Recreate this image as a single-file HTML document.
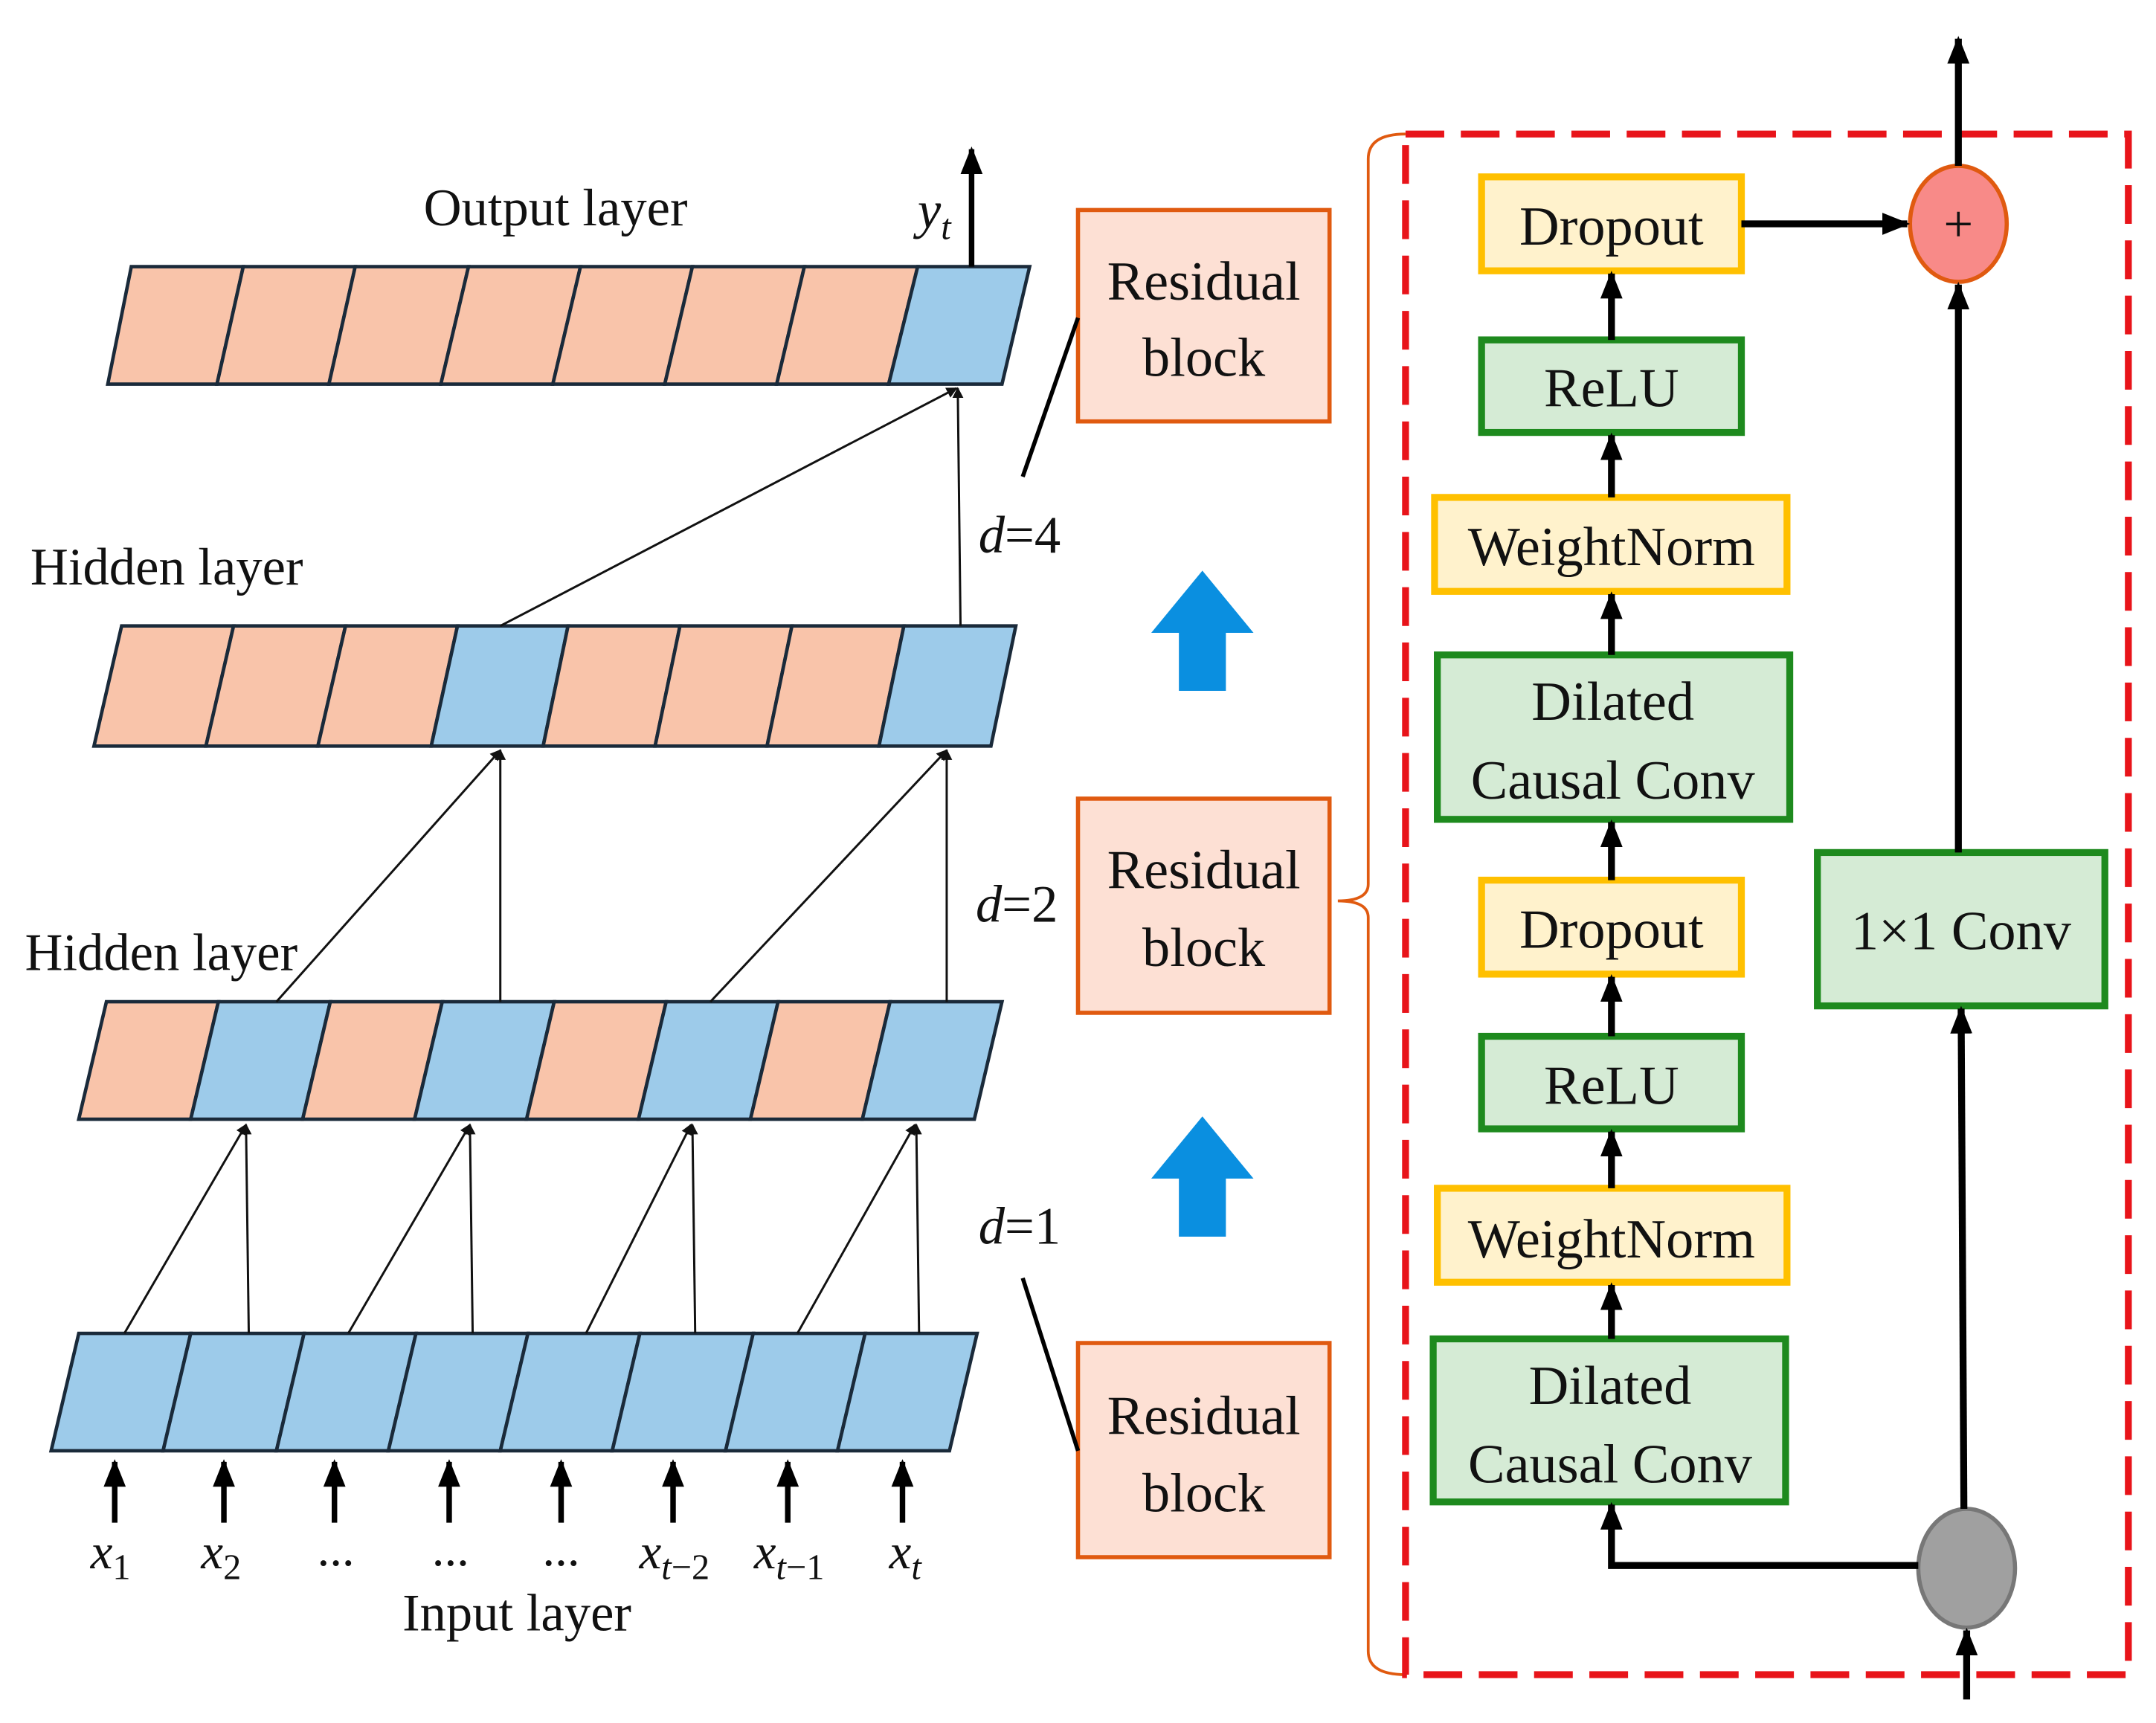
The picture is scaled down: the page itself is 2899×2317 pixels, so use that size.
<!DOCTYPE html>
<html><head><meta charset="utf-8"><style>
html,body{margin:0;padding:0;background:#fff;}
svg{display:block;}
text{font-family:"Liberation Serif",serif;fill:#111;}
</style></head><body>
<svg width="2899" height="2317" viewBox="0 0 1560 1247" preserveAspectRatio="none" xmlns="http://www.w3.org/2000/svg">
<defs>
<marker id="a" markerWidth="8" markerHeight="8" refX="7" refY="4" orient="auto" markerUnits="userSpaceOnUse"><path d="M0,0 L8,4 L0,8 z" fill="#111"/></marker>
<marker id="b" markerWidth="20" markerHeight="20" refX="18" refY="10" orient="auto" markerUnits="userSpaceOnUse"><path d="M0,2 L20,10 L0,18 z" fill="#000"/></marker>
</defs>
<rect width="1560" height="1247" fill="#fff"/>
<g stroke="#1a2a3a" stroke-width="2.5">
<!-- output -->
<polygon points="95,193 176,193 157,278 78,278" fill="#F9C4AA"/>
<polygon points="176,193 257,193 238,278 157,278" fill="#F9C4AA"/>
<polygon points="257,193 339,193 319,278 238,278" fill="#F9C4AA"/>
<polygon points="339,193 420,193 400,278 319,278" fill="#F9C4AA"/>
<polygon points="420,193 501,193 481,278 400,278" fill="#F9C4AA"/>
<polygon points="501,193 582,193 562,278 481,278" fill="#F9C4AA"/>
<polygon points="582,193 664,193 643,278 562,278" fill="#F9C4AA"/>
<polygon points="664,193 745,193 725,278 643,278" fill="#9DCBEA"/>
<!-- hidden 2 -->
<polygon points="88,453 169,453 149,540 68,540" fill="#F9C4AA"/>
<polygon points="169,453 250,453 230,540 149,540" fill="#F9C4AA"/>
<polygon points="250,453 331,453 312,540 230,540" fill="#F9C4AA"/>
<polygon points="331,453 411,453 393,540 312,540" fill="#9DCBEA"/>
<polygon points="411,453 492,453 474,540 393,540" fill="#F9C4AA"/>
<polygon points="492,453 573,453 555,540 474,540" fill="#F9C4AA"/>
<polygon points="573,453 654,453 636,540 555,540" fill="#F9C4AA"/>
<polygon points="654,453 735,453 717,540 636,540" fill="#9DCBEA"/>
<!-- hidden 1 -->
<polygon points="77,725 158,725 138,810 57,810" fill="#F9C4AA"/>
<polygon points="158,725 239,725 219,810 138,810" fill="#9DCBEA"/>
<polygon points="239,725 320,725 300,810 219,810" fill="#F9C4AA"/>
<polygon points="320,725 401,725 381,810 300,810" fill="#9DCBEA"/>
<polygon points="401,725 482,725 462,810 381,810" fill="#F9C4AA"/>
<polygon points="482,725 563,725 543,810 462,810" fill="#9DCBEA"/>
<polygon points="563,725 644,725 624,810 543,810" fill="#F9C4AA"/>
<polygon points="644,725 725,725 705,810 624,810" fill="#9DCBEA"/>
<!-- input -->
<polygon points="57,965 138,965 118,1050 37,1050" fill="#9DCBEA"/>
<polygon points="138,965 220,965 200,1050 118,1050" fill="#9DCBEA"/>
<polygon points="220,965 301,965 281,1050 200,1050" fill="#9DCBEA"/>
<polygon points="301,965 382,965 362,1050 281,1050" fill="#9DCBEA"/>
<polygon points="382,965 463,965 443,1050 362,1050" fill="#9DCBEA"/>
<polygon points="463,965 545,965 525,1050 443,1050" fill="#9DCBEA"/>
<polygon points="545,965 626,965 606,1050 525,1050" fill="#9DCBEA"/>
<polygon points="626,965 707,965 687,1050 606,1050" fill="#9DCBEA"/>
</g>
<g stroke="#111" stroke-width="1.6" fill="none" marker-end="url(#a)">
<line x1="90" y1="965" x2="178" y2="814"/><line x1="180" y1="965" x2="178" y2="814"/>
<line x1="252" y1="965" x2="340" y2="814"/><line x1="342" y1="965" x2="340" y2="814"/>
<line x1="424" y1="965" x2="500" y2="814"/><line x1="503" y1="965" x2="501" y2="814"/>
<line x1="577" y1="965" x2="662" y2="814"/><line x1="665" y1="965" x2="663" y2="814"/>
<line x1="200" y1="725" x2="362" y2="543"/><line x1="362" y1="725" x2="362" y2="543"/>
<line x1="514" y1="725" x2="685" y2="543"/><line x1="685" y1="725" x2="685" y2="543"/>
<line x1="362" y1="453" x2="692" y2="281"/><line x1="695" y1="453" x2="693" y2="281"/>
</g>
<g stroke="#000" stroke-width="4" marker-end="url(#b)">
<line x1="703" y1="193" x2="703" y2="108"/>
<line x1="83" y1="1102" x2="83" y2="1058"/><line x1="162" y1="1102" x2="162" y2="1058"/>
<line x1="242" y1="1102" x2="242" y2="1058"/><line x1="325" y1="1102" x2="325" y2="1058"/>
<line x1="406" y1="1102" x2="406" y2="1058"/><line x1="487" y1="1102" x2="487" y2="1058"/>
<line x1="570" y1="1102" x2="570" y2="1058"/><line x1="653" y1="1102" x2="653" y2="1058"/>
</g>
<g font-size="38">
<text x="402" y="163" text-anchor="middle">Output layer</text>
<text x="22" y="423">Hidden layer</text>
<text x="18" y="702">Hidden layer</text>
<text x="374" y="1180" text-anchor="middle">Input layer</text>
<text x="664" y="165" font-style="italic">y<tspan font-size="26" dy="8">t</tspan></text>
<text x="708" y="400"><tspan font-style="italic">d</tspan>=4</text>
<text x="706" y="667"><tspan font-style="italic">d</tspan>=2</text>
<text x="708" y="900"><tspan font-style="italic">d</tspan>=1</text>
</g>
<g font-size="36" text-anchor="middle">
<text x="80" y="1135" font-style="italic">x<tspan font-size="26" dy="8" font-style="normal">1</tspan></text>
<text x="160" y="1135" font-style="italic">x<tspan font-size="26" dy="8" font-style="normal">2</tspan></text>
<text x="243" y="1133">...</text><text x="326" y="1133">...</text><text x="406" y="1133">...</text>
<text x="488" y="1135" font-style="italic">x<tspan font-size="26" dy="8">t</tspan><tspan font-size="26" font-style="normal">−2</tspan></text>
<text x="571" y="1135" font-style="italic">x<tspan font-size="26" dy="8">t</tspan><tspan font-size="26" font-style="normal">−1</tspan></text>
<text x="655" y="1135" font-style="italic">x<tspan font-size="26" dy="8">t</tspan></text>
</g>
<!-- residual blocks -->
<g fill="#FDE0D4" stroke="#E05A10" stroke-width="3">
<rect x="780" y="152" width="182" height="153"/>
<rect x="780" y="578" width="182" height="155"/>
<rect x="780" y="972" width="182" height="155"/>
</g>
<g font-size="40" text-anchor="middle">
<text x="871" y="217">Residual</text><text x="871" y="272">block</text>
<text x="871" y="643">Residual</text><text x="871" y="699">block</text>
<text x="871" y="1038">Residual</text><text x="871" y="1094">block</text>
</g>
<g stroke="#000" stroke-width="3">
<line x1="740" y1="345" x2="780" y2="230"/>
<line x1="740" y1="925" x2="780" y2="1050"/>
</g>
<g fill="#0A8FE0">
<polygon points="870,413 907,458 887,458 887,500 853,500 853,458 833,458"/>
<polygon points="870,808 907,853 887,853 887,895 853,895 853,853 833,853"/>
</g>
<path d="M1017,97 Q990,97 990,115 L990,640 Q990,652 968,652 Q990,652 990,664 L990,1195 Q990,1212 1017,1212" fill="none" stroke="#E05A10" stroke-width="2"/>
<rect x="1017" y="97" width="523" height="1115" fill="none" stroke="#E8141A" stroke-width="5" stroke-dasharray="28,12"/>
<!-- right boxes -->
<g stroke-width="5">
<rect x="1072" y="128" width="188" height="68" fill="#FFF2CC" stroke="#FFC000"/>
<rect x="1072" y="246" width="188" height="67" fill="#D5EBD5" stroke="#1E8A1E"/>
<rect x="1038" y="360" width="255" height="68" fill="#FFF2CC" stroke="#FFC000"/>
<rect x="1040" y="474" width="255" height="119" fill="#D5EBD5" stroke="#1E8A1E"/>
<rect x="1072" y="637" width="188" height="68" fill="#FFF2CC" stroke="#FFC000"/>
<rect x="1072" y="750" width="188" height="67" fill="#D5EBD5" stroke="#1E8A1E"/>
<rect x="1040" y="860" width="253" height="68" fill="#FFF2CC" stroke="#FFC000"/>
<rect x="1037" y="969" width="255" height="118" fill="#D5EBD5" stroke="#1E8A1E"/>
<rect x="1315" y="617" width="208" height="111" fill="#D5EBD5" stroke="#1E8A1E"/>
</g>
<ellipse cx="1417" cy="162" rx="35" ry="42" fill="#F88A88" stroke="#E05A10" stroke-width="3"/>
<text x="1417" y="175" font-size="38" text-anchor="middle">+</text>
<ellipse cx="1423" cy="1135" rx="35" ry="43" fill="#A0A0A0" stroke="#777" stroke-width="3"/>
<g font-size="40" text-anchor="middle">
<text x="1166" y="177">Dropout</text>
<text x="1166" y="294">ReLU</text>
<text x="1166" y="409">WeightNorm</text>
<text x="1167" y="521">Dilated</text><text x="1167" y="578">Causal Conv</text>
<text x="1166" y="686">Dropout</text>
<text x="1166" y="799">ReLU</text>
<text x="1166" y="910">WeightNorm</text>
<text x="1165" y="1016">Dilated</text><text x="1165" y="1073">Causal Conv</text>
<text x="1419" y="687">1×1 Conv</text>
</g>
<g stroke="#000" stroke-width="5" fill="none" marker-end="url(#b)">
<line x1="1166" y1="246" x2="1166" y2="198"/>
<line x1="1166" y1="360" x2="1166" y2="315"/>
<line x1="1166" y1="474" x2="1166" y2="430"/>
<line x1="1166" y1="637" x2="1166" y2="595"/>
<line x1="1166" y1="750" x2="1166" y2="707"/>
<line x1="1166" y1="860" x2="1166" y2="819"/>
<line x1="1166" y1="969" x2="1166" y2="930"/>
<polyline points="1388,1133 1166,1133 1166,1089"/>
<line x1="1423" y1="1230" x2="1423" y2="1180"/>
<line x1="1421" y1="1092" x2="1419" y2="730"/>
<line x1="1417" y1="617" x2="1417" y2="206"/>
<line x1="1417" y1="120" x2="1417" y2="28"/>
<line x1="1260" y1="162" x2="1380" y2="162"/>
</g>
</svg>
</body></html>
